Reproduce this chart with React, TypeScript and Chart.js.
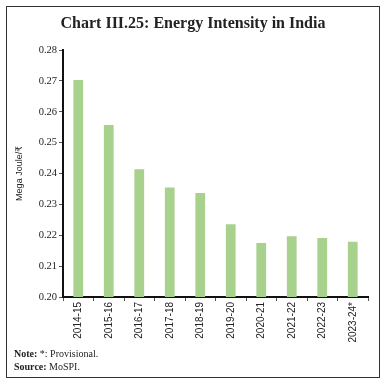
import React, { useEffect, useRef } from "react";
import { Chart, registerables } from "chart.js";

Chart.register(...registerables);

const categories = ["2014-15", "2015-16", "2016-17", "2017-18", "2018-19", "2019-20", "2020-21", "2021-22", "2022-23", "2023-24*"];
const energyIntensity = [0.2703, 0.2557, 0.2414, 0.2355, 0.2337, 0.2236, 0.2175, 0.2197, 0.2191, 0.2179];
const yMin = 0.2;
const yMax = 0.28;
const yStep = 0.01;

export default function App() {
  const ref = useRef<HTMLCanvasElement | null>(null);

  useEffect(() => {
    if (!ref.current) return;
    const chart = new Chart(ref.current, {
      type: "bar",
      data: {
        labels: categories,
        datasets: [
          {
            data: energyIntensity,
            backgroundColor: "#a9d18e",
            borderWidth: 0,
            barPercentage: 0.32,
            categoryPercentage: 1,
          },
        ],
      },
      options: {
        responsive: false,
        animation: false,
        events: [],
        layout: { padding: { left: 10, top: 50, right: 18, bottom: 40 } },
        plugins: { legend: { display: false }, tooltip: { enabled: false } },
        scales: {
          y: {
            min: yMin,
            max: yMax,
            ticks: {
              stepSize: yStep,
              callback: (v: any) => Number(v).toFixed(2),
              font: { family: "'Liberation Serif', serif", size: 10.5 },
              color: "#222",
              padding: 2,
            },
            grid: { drawOnChartArea: false, drawTicks: true, tickLength: 4, color: "#555" },
            border: { display: true, color: "#111", width: 2 },
            title: {
              display: true,
              text: "Mega Joule/₹",
              font: { family: "'Liberation Sans', 'DejaVu Sans', sans-serif", size: 9 },
              color: "#222",
              padding: { top: 4, bottom: 0 },
            },
            afterFit: (s: any) => {
              s.width = 53;
            },
          },
          x: {
            ticks: {
              autoSkip: false,
              maxRotation: 90,
              minRotation: 90,
              font: { family: "'Liberation Sans', sans-serif", size: 10 },
              color: "#222",
              padding: 1,
            },
            grid: { drawOnChartArea: false, drawTicks: true, tickLength: 4, color: "#555", offset: true },
            border: { display: true, color: "#111", width: 2 },
            afterFit: (s: any) => {
              s.height = 50;
            },
          },
        },
      },
    });
    return () => chart.destroy();
  }, []);

  return (
    <div style={{ position: "fixed", left: 0, top: 0, width: 386, height: 387, background: "#fff" }}>
      <canvas ref={ref} width={386} height={387} style={{ position: "absolute", left: 0, top: 0, width: 386, height: 387 }} />
      <div
        style={{
          position: "absolute",
          left: 6,
          top: 6,
          width: 372,
          height: 370,
          border: "1.5px solid #333",
          pointerEvents: "none",
        }}
      />
      <div
        style={{
          position: "absolute",
          left: 0,
          top: 13,
          width: 386,
          textAlign: "center",
          fontFamily: "'Liberation Serif', serif",
          fontWeight: "bold",
          fontSize: 16,
          color: "#222",
          lineHeight: "20px",
        }}
      >
        Chart III.25: Energy Intensity in India
      </div>
      <div
        style={{
          position: "absolute",
          left: 14,
          top: 347,
          fontFamily: "'Liberation Serif', serif",
          fontSize: 10,
          color: "#222",
          lineHeight: "13px",
        }}
      >
        <div>
          <b>Note:</b> *: Provisional.
        </div>
        <div>
          <b>Source:</b> MoSPI.
        </div>
      </div>
    </div>
  );
}
